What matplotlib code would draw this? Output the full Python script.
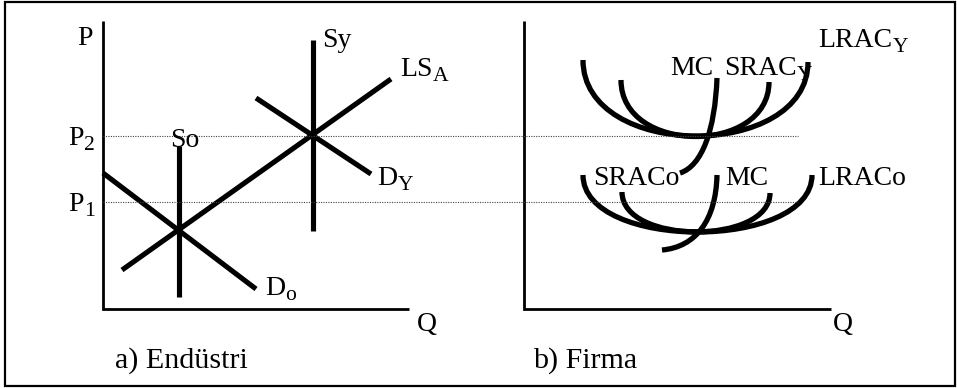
import matplotlib
matplotlib.use("Agg")
import matplotlib.pyplot as plt
from matplotlib.path import Path
from matplotlib.patches import PathPatch, Rectangle

plt.rcParams['font.family'] = ['Liberation Serif', 'DejaVu Serif']

# ---- data (picture coordinates, y grows downward) ----
# Panel a) Endüstri : straight lines, [x0, x1], [y0, y1]
supply_So_x = [179, 179]; supply_So_y = [146, 297]
supply_Sy_x = [313, 313]; supply_Sy_y = [40, 231]
ls_A_x = [122, 391];      ls_A_y = [270, 79]
demand_Do_x = [103, 256]; demand_Do_y = [173, 289]
demand_DY_x = [256, 371]; demand_DY_y = [98, 174]
price_levels = [136, 202]          # P2, P1
price_subs = ['2', '1']
price_line_x = [103, 798]

# Panel b) Firma : cubic Bezier control points (x list, y list)
lrac_Y_x = [583, 583, 808, 808];  lrac_Y_y = [60, 161, 161, 62]
srac_Y_x = [621, 621, 769, 769];  srac_Y_y = [80, 155, 155, 82]
mc_Y_x   = [680, 702, 715, 717];  mc_Y_y   = [173, 166, 130, 78]
lrac_o_x = [583, 583, 812, 812];  lrac_o_y = [175, 251, 251, 175]
srac_o_x = [622, 622, 770, 770];  srac_o_y = [192, 245, 245, 193]
mc_o_x   = [662, 696, 716, 717];  mc_o_y   = [250, 247, 220, 175]

# axes of both panels
axis_a_x = [103, 103, 409]; axis_a_y = [21, 309, 309]
axis_b_x = [524, 524, 831]; axis_b_y = [21, 309, 309]

# labels: (text, subscript, x, baseline y, size)
labels = [
    ('P', '', 77, 45, 20), ('Sy', '', 322, 47, 20), ('LS', 'A', 400, 76, 20),
    ('So', '', 170, 147, 20), ('D', 'Y', 377, 185, 20), ('D', 'o', 265, 295, 20),
    ('Q', '', 417, 331, 20), ('a) Endüstri', '', 115, 368, 21.6),
    ('LRAC', 'Y', 818, 47, 20), ('MC', '', 670, 75, 20), ('SRAC', 'Y', 724, 75, 20),
    ('SRACo', '', 593, 185, 20), ('MC', '', 725, 185, 20), ('LRACo', '', 818, 185, 20),
    ('Q', '', 833, 331, 20), ('b) Firma', '', 533, 368, 21.6),
]
for y, s in zip(price_levels, price_subs):
    labels.append(('P', s, 68, y + 9, 20))

W, H = 957, 388
fig = plt.figure(figsize=(W / 100, H / 100), dpi=100)
ax = fig.add_axes([0, 0, 1, 1])
ax.set_xlim(0, W)
ax.set_ylim(H, 0)
ax.axis('off')

# border
ax.add_patch(Rectangle((5, 2), 950, 384, fill=False, lw=1.6, ec='black'))

thick = dict(color='black', lw=3.7, solid_capstyle='butt')
for xs, ys in [(supply_So_x, supply_So_y), (supply_Sy_x, supply_Sy_y),
               (ls_A_x, ls_A_y), (demand_Do_x, demand_Do_y),
               (demand_DY_x, demand_DY_y)]:
    ax.plot(xs, ys, **thick)

for xs, ys in [(axis_a_x, axis_a_y), (axis_b_x, axis_b_y)]:
    ax.plot(xs, ys, color='black', lw=2.0, solid_capstyle='butt', solid_joinstyle='miter')

for y in price_levels:
    ax.plot(price_line_x, [y, y], color='#444444', lw=0.8, ls=(0, (1, 1.2)))

codes = [Path.MOVETO, Path.CURVE4, Path.CURVE4, Path.CURVE4]
for xs, ys in [(lrac_Y_x, lrac_Y_y), (srac_Y_x, srac_Y_y), (mc_Y_x, mc_Y_y),
               (lrac_o_x, lrac_o_y), (srac_o_x, srac_o_y), (mc_o_x, mc_o_y)]:
    p = Path(list(zip(xs, ys)), codes)
    ax.add_patch(PathPatch(p, fill=False, lw=3.8, ec='black', capstyle='butt'))

renderer = fig.canvas.get_renderer()
for txt, sub, x, y, fs in labels:
    t = ax.text(x, y, txt, fontsize=fs, ha='left', va='baseline')
    if sub:
        bb = t.get_window_extent(renderer=renderer)
        x_end = ax.transData.inverted().transform((bb.x1, bb.y0))[0]
        ax.text(x_end + 0.5, y + 5, sub, fontsize=fs * 0.78, ha='left', va='baseline')

fig.savefig('out.png', dpi=100)
